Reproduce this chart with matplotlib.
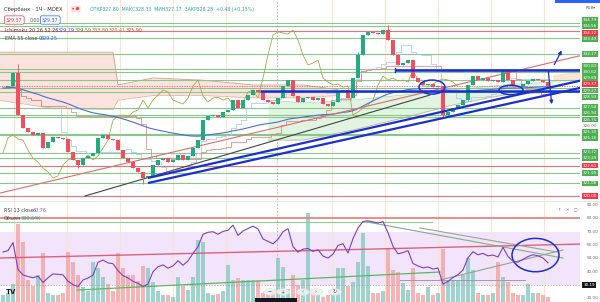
import numpy as np
import pandas as pd
import matplotlib
matplotlib.use("Agg")
import matplotlib.pyplot as plt
import matplotlib.transforms as mtransforms
from matplotlib.patches import Ellipse, Rectangle, Circle

# ---- values: SBER 1h, MOEX ----
first_open = 329.20
closes = [
    329.24, 329.41, 330.52, 326.93, 325.82, 325.47, 325.22, 325.39, 324.11, 324.62,
    325.05, 324.96, 324.88, 323.77, 323.09, 322.66, 323.26, 323.43, 323.69, 324.96,
    325.22, 324.88, 324.79, 323.94, 323.26, 322.91, 322.40, 322.06, 321.55, 321.72,
    322.66, 323.09, 323.26, 322.91, 323.09, 323.51, 323.09, 323.43, 324.11, 324.79,
    326.50, 326.84, 326.93, 326.76, 327.18, 327.36, 328.21, 327.53, 328.21, 328.64,
    329.07, 328.89, 328.21, 328.04, 327.87, 328.38, 329.41, 329.92, 328.55, 328.04,
    328.38, 328.45, 328.21, 328.38, 327.87, 327.70, 328.04, 328.89, 329.07, 328.38,
    330.09, 332.06, 333.77, 334.03, 333.94, 333.85, 334.20, 333.34, 332.06, 331.21,
    331.38, 331.63, 330.09, 329.75, 329.50, 329.58, 329.32, 329.41, 326.93, 327.18,
    327.53, 327.79, 328.21, 329.50, 330.26, 329.92, 330.09, 329.84, 329.92, 329.75,
    330.78, 329.92, 329.41, 329.32, 329.58, 329.84, 330.01, 329.92, 329.75, 329.37,
]
# long wicks
spike_high = {3: 331.25, 77: 334.62, 71: 332.30}
spike_low = {28: 321.05, 88: 326.70, 15: 322.40}

volume = [
    8, 10, 20, 88, 67, 25, 18, 30, 55, 10,
    8, 8, 10, 56, 45, 30, 17, 12, 45, 38,
    28, 20, 12, 55, 38, 30, 30, 24, 40, 38,
    22, 12, 8, 8, 6, 28, 18, 14, 28, 70,
    67, 10, 8, 9, 12, 42, 25, 27, 25, 25,
    25, 25, 10, 8, 12, 50, 39, 15, 30, 19,
    25, 100, 14, 8, 6, 8, 10, 38, 38, 18,
    22, 45, 78, 40, 10, 10, 12, 60, 36, 34,
    21, 14, 38, 10, 8, 17, 8, 10, 60, 25,
    25, 25, 30, 49, 36, 10, 8, 8, 10, 45,
    28, 22, 10, 8, 8, 20, 10, 10, 8, 6,
]

# ichimoku cloud boundaries
kumo_red_idx = [-1, 10, 22, 23, 30, 40, 50, 60, 67]
kumo_red_top = [332.3, 332.3, 332.3, 329.5, 330.1, 329.9, 329.5, 329.5, 329.1]
kumo_red_bot = [328.2, 327.5, 327.4, 328.2, 328.6, 328.6, 328.4, 328.4, 328.6]
kumo_green_idx = [53, 60, 70, 80, 90, 100, 110]
kumo_green_top = [328.21, 327.96, 328.21, 328.64, 329.07, 329.50, 329.75]
kumo_green_bot = [324.79, 324.79, 325.65, 326.68, 327.79, 328.64, 328.89]
kumo_tail_idx = [110, 116]
kumo_tail_top = [330.4, 330.7]
kumo_tail_bot = [329.8, 329.9]
lag_shift = 18

# horizontal levels with their axis labels
levels = [334.79, 334.56, 334.12, 333.49, 332.17, 330.83, 330.62, 329.89, 329.37, 329.27, 328.93,
          327.54, 326.94, 326.75, 325.30, 325.18, 323.72, 323.29, 322.61, 321.99, 321.08, 320.00]
level_kind = ['g', 'g', 'r', 'g', 'g', 'g', 'g', 'g', 'r', 'g', 'g',
              'g', 'g', 'g', 'g', 'g', 'g', 'g', 'r', 'g', 'g', 'r']
last_price = 329.37

# hand-drawn lines (index, price)
blue_trend = [(29, 321.55, 116, 329.92), (29, 321.12, 116, 329.30)]
blue_flat = [(51.4, 328.98, 116, 328.98), (78.4, 330.78, 116, 330.78)]
thin_trend = [(16.4, 320.01, 85.4, 328.64, '#444444'), (-0.6, 320.26, 116, 332.06, '#e06c6c')]
arrows = [(110, 331.03, 112, 332.66), (109, 330.95, 109.8, 327.62)]
ellipses_main = [(85.8, 329.32, 5.2, 1.2), (101.6, 329.07, 4.8, 0.8)]

# RSI pane drawings (index, value)
rsi_lines = [(-0.6, 80, 116, 80, '#ef8a8a', 1.4), (-0.6, 77.3, 85.8, 77.3, '#8fcf8f', 0.8),
             (-0.6, 50.3, 116, 60.8, '#e0607a', 1.0), (72.8, 77.3, 112, 50.3, '#7fae7f', 0.8),
             (83.4, 72.8, 110.8, 54.8, '#9aa59a', 0.8), (14.8, 26.3, 87.4, 39.8, '#5cb85c', 0.9),
             (87.4, 33.8, 112, 56.3, '#8aa88a', 0.8), (79.4, 33.8, 104.4, 33.8, '#9e9e9e', 0.7)]
rsi_len = 13
rsi_seed = (0.36, 0.30)
cursor_value = 30.19
time_grid = [2.2, 12.8, 23.4, 34.0, 44.6, 65.8, 76.4, 87.0, 97.6, 108.2]
session_break = 54.8

GREEN, RED = '#22ab7e', '#ef4f5f'

c = np.array(closes)
o = np.r_[first_open, c[:-1]]
n = len(c)
idx = np.arange(n)
hi = np.maximum(o, c)
lo = np.minimum(o, c)
for k, v in spike_high.items():
    hi[k] = v
for k, v in spike_low.items():
    lo[k] = v
up = c >= o

fig = plt.figure(figsize=(6.0, 3.02), dpi=100)


def fx(x):
    return x / 600


def fy(y):
    return 1 - y / 302


# ---------------- main pane ----------------
ax = fig.add_axes([0, fy(200), 580 / 600, 200 / 302])
ax.set_xlim(-0.6, 115.4)
ax.set_ylim(319.667, 336.761)
ax.axis('off')

for g in time_grid:
    ax.axvline(g, color='#fde3cf', lw=0.8, zorder=0)
ax.axvline(session_break, color='#b0b0b0', lw=0.6, ls=(0, (2, 2)), zorder=0)

ax.fill_between(kumo_red_idx, kumo_red_top, kumo_red_bot, color='#fde2dd', lw=0, zorder=1)
ax.plot(kumo_red_idx, kumo_red_top, color='#c9a08a', lw=0.6, zorder=1)
ax.plot(kumo_red_idx, kumo_red_bot, color='#d7b8a8', lw=0.5, zorder=1)
ax.fill_between(kumo_green_idx, kumo_green_top, kumo_green_bot, color='#e1f3e1', lw=0, zorder=1)
ax.plot(kumo_green_idx, kumo_green_top, color='#a5d6a7', lw=0.5, zorder=1)
ax.plot(kumo_green_idx, kumo_green_bot, color='#c5a88f', lw=0.5, zorder=1)
ax.fill_between(kumo_tail_idx, kumo_tail_top, kumo_tail_bot, color='#fde5d6', lw=0, zorder=1)

for p, k in zip(levels, level_kind):
    if p == last_price:
        ax.axhline(p, color='#ef5350', lw=0.6, ls=(0, (1, 1)), zorder=2)
    else:
        ax.axhline(p, color='#86c98a' if k == 'g' else '#e57373', lw=0.8, zorder=2)

# indicators computed from the candles
hs, ls_ = pd.Series(hi), pd.Series(lo)
tenkan = (hs.rolling(9, min_periods=1).max() + ls_.rolling(9, min_periods=1).min()) / 2
kijun = (hs.rolling(26, min_periods=1).max() + ls_.rolling(26, min_periods=1).min()) / 2
ema = pd.Series(c).ewm(span=55, adjust=False).mean()
ax.plot(idx, tenkan, color='#9cc3ea', lw=0.5, drawstyle='steps-mid', zorder=3)
ax.plot(idx, kijun, color='#e07a76', lw=0.5, drawstyle='steps-mid', zorder=3)
ax.plot(idx[:-lag_shift], c[lag_shift:], color='#a8a84a', lw=0.6, zorder=3)
ax.plot(idx, ema, color='#4a6fd6', lw=0.8, zorder=3)

for i0, p0, i1, p1, col in thin_trend:
    ax.plot([i0, i1], [p0, p1], color=col, lw=0.8, zorder=3)

ax.vlines(idx, lo, hi, color=np.where(up, GREEN, RED), lw=0.6, zorder=4)
ax.bar(idx, np.clip(np.abs(c - o), 0.06, None), bottom=np.minimum(o, c), width=0.62,
       color=np.where(up, GREEN, RED), lw=0, zorder=4)

for i0, p0, i1, p1 in blue_trend:
    ax.plot([i0, i1], [p0, p1], color='#1a2fd0', lw=1.6, zorder=5, solid_capstyle='butt')
for i0, p0, i1, p1 in blue_flat:
    ax.plot([i0, i1], [p0, p1], color='#1a2fd0', lw=1.8, zorder=5, solid_capstyle='butt')
ax.plot([78.4, 78.4], [330.6, 330.95], color='#1a2fd0', lw=1.0, zorder=5)
for cx, cy, w, h in ellipses_main:
    ax.add_patch(Ellipse((cx, cy), w, h, fill=False, ec='#1a2fd0', lw=1.1, zorder=6))
for i0, p0, i1, p1 in arrows:
    ax.annotate('', xy=(i1, p1), xytext=(i0, p0), zorder=6, annotation_clip=False,
                arrowprops=dict(arrowstyle='-|>', color='#1a2fd0', lw=0.9, mutation_scale=5))

# price axis: level labels spread apart, plain ticks only where no label covers them
px_per = 200 / (336.761 - 319.667)
ys = [(336.761 - p) * px_per for p in levels]
gap = 6.2
for _ in range(300):
    moved = False
    order = np.argsort(ys)
    for a, b in zip(order[:-1], order[1:]):
        dd = ys[b] - ys[a]
        if dd < gap - 1e-6:
            s = (gap - dd) / 2
            ys[a] -= s
            ys[b] += s
            moved = True
    if not moved:
        break
ys = [y + max(0, 17.5 - min(ys)) for y in ys]
for t in range(320, 337):
    ty = (336.761 - t) * px_per
    if min(abs(ty - y) for y in ys) > 5.5 and ty > 12:
        fig.text(fx(583), fy(ty), f'{t:.2f}', fontsize=3.0, color='#6b6b6b', va='center', ha='left')
for p, k, yy in zip(levels, level_kind, ys):
    fig.text(fx(582.5), fy(yy), f'{p:.2f}', fontsize=3.0, color='white', va='center', ha='left',
             bbox=dict(boxstyle='square,pad=0.22', fc='#4caf50' if k == 'g' else '#f23645', ec='none'))

# ---------------- RSI + volume pane ----------------
vax = fig.add_axes([0, 0, 580 / 600, 101 / 302])
rax = fig.add_axes([0, 0, 580 / 600, 101 / 302], sharex=vax)
rax.set_zorder(vax.get_zorder() + 1)
rax.patch.set_visible(False)
vax.set_xlim(-0.6, 115.4)
rax.set_ylim(17.34, 93.0)
vax.set_ylim(0, 113.5)
vax.axis('off')
rax.axis('off')

band = mtransforms.blended_transform_factory(vax.transAxes, rax.transData)
vax.add_patch(Rectangle((0, 30), 1, 40, transform=band, fc='#f2e5fb', ec='none', zorder=0))
for g in time_grid:
    vax.axvline(g, color='#fde3cf', lw=0.8, zorder=0)
vax.axvline(session_break, color='#b0b0b0', lw=0.6, ls=(0, (2, 2)), zorder=0)
vax.bar(idx, volume, width=0.7, color=np.where(up, '#86c9c2', '#f4a3a3'), alpha=0.8, lw=0, zorder=1)

dlt = np.diff(c, prepend=first_open)
ag, al = rsi_seed
rsi = []
for dv in dlt:
    ag = (ag * (rsi_len - 1) + max(dv, 0)) / rsi_len
    al = (al * (rsi_len - 1) + max(-dv, 0)) / rsi_len
    rsi.append(100 - 100 / (1 + ag / al))

for i0, v0, i1, v1, col, lw in rsi_lines:
    rax.plot([i0, i1], [v0, v1], color=col, lw=lw, zorder=2)
rax.plot(idx, rsi, color='#7b3fc4', lw=0.8, zorder=6)
rax.axhline(cursor_value, color='#9e9e9e', lw=0.5, ls=(0, (2, 2)), zorder=2)
rax.add_patch(Ellipse((106.5, 52.5), 9.4, 25.0, fill=False, ec='#1a2fd0', lw=1.1, zorder=5))

rtr = mtransforms.blended_transform_factory(rax.transAxes, rax.transData)
for v in [20, 40, 50, 60, 70, 80, 90]:
    rax.text(1.012, v, f'{v:.2f}', transform=rtr, fontsize=3.0, color='#6b6b6b',
             va='center', ha='left', clip_on=False)
rax.text(1.006, cursor_value, f'{cursor_value:.2f}', transform=rtr, fontsize=3.0, color='white',
         va='center', ha='left', clip_on=False, bbox=dict(boxstyle='square,pad=0.25', fc='#131722', ec='none'))

# pane separator
fig.add_artist(plt.Line2D([0, 1], [fy(200.5), fy(200.5)], color='#e0e0e0', lw=0.6))

# ---------------- legends / chrome ----------------
fs = 3.5
fig.text(fx(4), fy(9), 'Сбербанк · 1Ч · MOEX', fontsize=3.8, color='#333333', va='center')
fig.text(fx(72), fy(9), '▾ ●', fontsize=3.2, color='#f23645', va='center',
         bbox=dict(boxstyle='round,pad=0.3', fc='#fde0e0', ec='none'))
fig.text(fx(90), fy(9), 'ОТКР327.80  МАКС328.33  МИН327.17  ЗАКР328.28  +0.48 (+0.15%)',
         fontsize=3.3, color='#26a69a', va='center')
fig.text(fx(6), fy(20), '329.37', fontsize=3.4, color='#f23645', va='center',
         bbox=dict(boxstyle='round,pad=0.35', fc='white', ec='#f23645', lw=0.5))
fig.text(fx(30), fy(20), '0.00', fontsize=3.4, color='#555555', va='center')
fig.text(fx(42), fy(20), '329.37', fontsize=3.4, color='#2962ff', va='center',
         bbox=dict(boxstyle='round,pad=0.35', fc='white', ec='#2962ff', lw=0.5))
fig.text(fx(5), fy(31), 'Ichimoku 20 26 52 26', fontsize=fs, color='#444444', va='center')
ichi_vals = ['329.79', '329.59', '333.80', '326.41', '325.90']
ichi_cols = ['#2962ff', '#43a047', '#a0783c', '#c47f4a', '#e53935']
for k, (t, col) in enumerate(zip(ichi_vals, ichi_cols)):
    fig.text(fx(58 + 17 * k), fy(31), t, fontsize=fs, color=col, va='center')
fig.text(fx(5), fy(39), 'EMA 55 close 0', fontsize=fs, color='#444444', va='center')
fig.text(fx(41), fy(39), '329.25', fontsize=fs, color='#2962ff', va='center')

fig.text(fx(4), fy(210), 'RSI 13 close', fontsize=fs, color='#444444', va='center')
fig.text(fx(33), fy(210), '60.76', fontsize=fs, color='#7e57c2', va='center')
fig.text(fx(4), fy(219), 'Объем', fontsize=fs, color='#444444', va='center')
fig.text(fx(21), fy(219), '380.64K', fontsize=fs, color='#26a69a', va='center')
fig.text(fx(558), fy(210), '↑   ✕   ▢', fontsize=3.2, color='#777777', va='center')
fig.text(fx(6), fy(292), 'TV', fontsize=5, color='#131722', weight='bold', va='center')

fig.add_artist(Rectangle((fx(555), fy(3)), 45 / 600, 3 / 302, transform=fig.transFigure,
                         fc='#2962ff', ec='none'))
fig.text(fx(586), fy(8), 'RUB▾', fontsize=2.8, color='#555555', va='center')
fig.add_artist(Rectangle((fx(255), 0), 42 / 600, 4 / 302, transform=fig.transFigure,
                         fc='#131722', ec='none'))
for x, s in zip([270, 283, 303, 316, 335], ['−', '+', '‹', '›', '↻']):
    fig.add_artist(Circle((fx(x), fy(292)), 0.011, transform=fig.transFigure,
                          fc='#f0f0f0', ec='#d8d8d8', lw=0.4, alpha=0.9))
    fig.text(fx(x), fy(292), s, fontsize=3.6, color='#555555', ha='center', va='center')

fig.savefig('out.png', dpi=100)
